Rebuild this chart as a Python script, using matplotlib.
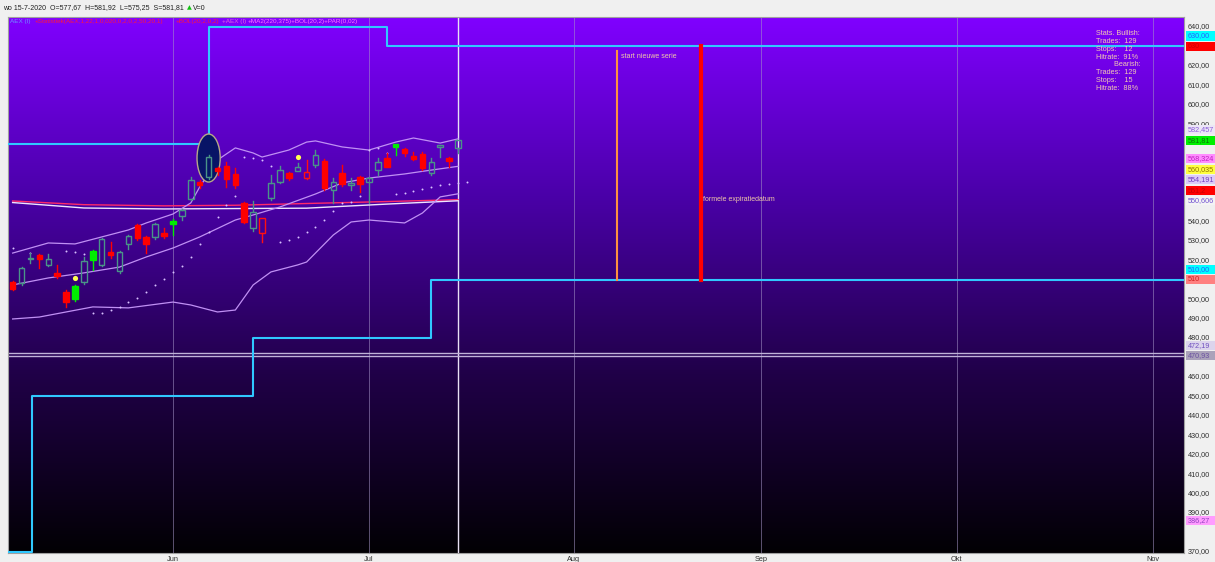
import numpy as np
import matplotlib
matplotlib.use('Agg')
import matplotlib.pyplot as plt
import matplotlib.transforms as mtrans
from matplotlib.patches import Rectangle, Ellipse
from matplotlib.colors import LinearSegmentedColormap

plt.rcParams['font.family'] = ['Liberation Sans', 'DejaVu Sans']

# AEX daily candles, bar index 0 .. 50 (last one is 15-7-2020)
opens = [508.8, 508.5, 520.7, 522.7, 517.6, 513.3, 503.8, 500.0, 508.7, 520.1,
         517.6, 524.4, 514.5, 528.4, 538.1, 532.1, 531.8, 533.9, 538.8, 542.8,
         551.5, 560.5, 563.0, 567.6, 568.7, 564.2, 549.3, 536.5, 533.9, 552.2,
         560.4, 564.7, 566.1, 562.2, 569.0, 571.2, 556.2, 564.7, 558.7, 563.0,
         560.1, 566.4, 572.5, 578.4, 577.1, 573.6, 574.5, 565.0, 578.4, 572.5,
         577.67]
highs = [509.5, 516.5, 523.5, 523.2, 523.3, 517.6, 504.5, 507.5, 521.8, 525.5,
         531.5, 529.6, 525.0, 533.0, 538.5, 532.5, 539.0, 536.6, 541.0, 546.5,
         563.0, 561.5, 574.0, 568.0, 570.7, 567.5, 550.0, 550.5, 542.0, 563.9,
         568.7, 565.5, 570.2, 571.6, 576.7, 572.0, 562.2, 569.0, 562.5, 563.5,
         562.8, 572.5, 575.0, 580.0, 577.6, 575.9, 575.5, 572.5, 579.5, 573.0,
         581.92]
lows = [504.5, 507.5, 518.5, 516.0, 517.0, 510.9, 496.1, 499.0, 508.0, 515.0,
        517.0, 521.0, 513.5, 525.6, 530.5, 523.6, 531.0, 531.3, 533.0, 540.7,
        551.0, 557.0, 562.0, 563.9, 557.9, 557.2, 539.0, 535.0, 529.6, 551.0,
        560.0, 561.5, 565.8, 561.8, 568.0, 556.0, 549.3, 558.0, 556.2, 555.3,
        549.3, 563.9, 567.8, 574.2, 573.5, 571.5, 566.5, 564.0, 573.3, 568.1,
        575.25]
closes = [505.3, 515.9, 521.2, 520.4, 520.8, 511.9, 498.7, 506.8, 519.6, 524.9,
          530.9, 522.7, 524.1, 532.5, 531.3, 528.2, 538.7, 532.5, 540.2, 545.9,
          561.3, 558.5, 573.0, 565.9, 561.8, 558.7, 539.8, 544.7, 541.6, 559.6,
          566.4, 562.5, 567.8, 565.6, 574.2, 557.0, 560.1, 559.1, 560.0, 559.1,
          562.5, 570.4, 568.1, 579.7, 575.3, 571.9, 567.3, 570.4, 579.3, 571.2,
          581.81]
green_days = [7, 9, 18, 43]
yellow_dots = [(7, 510.9), (32, 573.1)]

nan = np.nan
sar = [526.3, nan, 523.7, nan, nan, nan, 524.8, 524.3, 523.2, 492.9,
       492.9, 494.4, 496.0, 498.5, 500.6, 503.7, 507.3, 510.4, 514.0, 517.1,
       521.7, 528.4, 534.5, 542.3, 548.4, 553.1, 573.1, 572.6, 571.6, 568.5,
       529.4, 530.4, 532.0, 534.5, 537.1, 540.7, 545.3, 549.5, 550.0, 553.1,
       576.7, 577.8, 575.2, 554.1, 554.6, 555.6, 556.7, 557.7, 558.7, 559.4,
       559.7, 560.035]

# Bollinger (20,2)
bol_up_x = [0, 4, 7, 10, 13, 15, 18, 20, 21, 23, 25, 27, 28, 31, 33, 34, 37, 40, 43, 45, 48, 50]
bol_up = [523.7, 528.9, 528.4, 532.0, 535.6, 539.2, 543.8, 549.5, 557.7, 571.6, 577.8,
          575.2, 573.1, 576.7, 580.8, 581.4, 578.3, 576.7, 580.8, 582.9, 580.3, 582.457]
bol_mid_x = [0, 4, 8, 12, 15, 18, 21, 25, 27, 30, 34, 37, 40, 44, 47, 50]
bol_mid = [507.3, 510.9, 513.5, 516.5, 521.7, 526.3, 532.0, 540.7, 543.3, 547.4,
           554.1, 559.8, 562.3, 564.4, 566.4, 568.324]
bol_low_x = [0, 3, 6, 9, 13, 18, 20, 23, 25, 27, 29, 32, 33, 36, 38, 40, 44, 46, 48, 50]
bol_low = [489.8, 490.8, 493.4, 496.0, 495.5, 498.5, 497.0, 493.4, 494.4, 507.3,
           514.0, 517.6, 519.1, 533.0, 539.7, 540.7, 539.2, 544.3, 552.6, 554.191]

# MA2(220,375)
ma_x = [0, 8, 17, 25, 33, 42, 50]
ma220 = [550.5, 548.6, 548.0, 548.3, 549.2, 550.2, 551.2]
ma375 = [549.7, 546.9, 546.4, 546.6, 546.8, 548.9, 550.606]

# stop / target steps (bar index where level changes)
low_step_x = [2.2, 27, 47]
low_step_val = [370, 450, 480, 510]
high_step_x = [22, 42]
high_step_val = [580, 640, 630]

start_series = 67.85
expiry = 77.3
series_top = 627.6
expiry_top = 630.0
series_floor = 510.0
today = 50
hlines = [472.19, 470.93]

month_pos = [18, 40, 63, 84, 106, 128]
month_lbl = ['Jun', 'Jul', 'Aug', 'Sep', 'Okt', 'Nov']

right_labels = [
    (630.0, '630', '#ff0000', '#d00000'),
    (630.0, '630,00', '#00ffff', '#2a5cff'),
    (582.457, '582,457', '#ece6f6', '#8a5ad8'),
    (581.81, '581,81', '#00f000', '#107010'),
    (568.324, '568,324', '#ff8cff', '#c020c0'),
    (560.035, '560,035', '#ffff40', '#907000'),
    (554.191, '554,191', '#dccaf8', '#7040c0'),
    (551.2, '551,2', '#ff0000', '#c80000'),
    (550.606, '550,606', '#f4f4f4', '#7050d0'),
    (510.0, '510', '#ff8080', '#d02020'),
    (510.0, '510,00', '#00ffff', '#2a5cff'),
    (470.93, '470,93', '#aaa2ba', '#6a50a0'),
    (472.19, '472,19', '#dcd4ec', '#7050c0'),
    (386.27, '386,27', '#ff9cff', '#9040c0'),
]

legend_parts = [
    ('AEX (I)', '#7090ff', 10),
    ('+Statistiek(AEX,1,22,1,0,020,0,2,0,2,50,20,1)', '#ff1a3a', 35),
    ('+BOL(20,2,0,2)', '#ff1a3a', 176),
    ('+AEX (I)', '#e060e0', 216),
    ('+MA2(220,375)+BOL(20,2)+PAR(0,02)', '#ff70ff', 238),
]

stats_text = ('Stats. Bullish:\nTrades:  129\nStops:    12\nHitrate:  91%\n'
              '         Bearish:\nTrades:  129\nStops:    15\nHitrate:  88%')

# ------------------------------------------------------------------
W, H = 1215, 562
fig = plt.figure(figsize=(W / 100, H / 100), dpi=100)
fig.patch.set_facecolor('#f0f0f0')
ax = fig.add_axes([8 / W, 1 - 553 / H, (1184 - 8) / W, (553 - 17) / H])

x0, x1 = -0.52, 131.5
y0, y1 = 369.4, 645.15
ax.set_xlim(x0, x1)
ax.set_ylim(y0, y1)
upp = (y1 - y0) / 536.0   # price units per pixel

cmap = LinearSegmentedColormap.from_list('bg', ['#8000ff', '#4a00a8', '#200048', '#020004'],
                                         N=256)
grad = np.linspace(0, 1, 256).reshape(-1, 1)
ax.imshow(grad, extent=[x0, x1, y0, y1], aspect='auto', cmap=cmap, origin='upper', zorder=0)

for m in month_pos:
    ax.axvline(m, color='#a596c8', lw=0.7, alpha=0.55, zorder=1)
ax.axvline(today, color='#e8e0f4', lw=1.0, zorder=1)
for h in hlines:
    ax.axhline(h, color='#c0b2d8', lw=1.0, zorder=2)

# steps
xs = [x0] + low_step_x + [x1]
ax.step(xs, low_step_val + [low_step_val[-1]], where='post', color='#30c8ff', lw=1.5, zorder=3)
xs = [x0] + high_step_x + [x1]
ax.step(xs, high_step_val + [high_step_val[-1]], where='post', color='#30c8ff', lw=1.5, zorder=3)

# series / expiry lines
ax.plot([start_series, start_series], [series_floor, series_top], color='#ff9040', lw=1.5, zorder=3)
ax.plot([expiry, expiry], [series_floor, expiry_top], color='#ff0000', lw=3, zorder=3)
ax.text(start_series + 0.5, series_top - 3, 'start nieuwe serie', color='#f0c8a8',
        fontsize=5, va='center', zorder=4)
ax.text(expiry + 0.2, 551.5, 'formele expiratiedatum', color='#f0c8a8',
        fontsize=5, va='center', zorder=4)

# indicators
ax.plot(ma_x, ma220, color='#ff2a6a', lw=1.0, zorder=3)
ax.plot(ma_x, ma375, color='#f0e6ff', lw=1.0, zorder=3)
for bx, by in [(bol_up_x, bol_up), (bol_mid_x, bol_mid), (bol_low_x, bol_low)]:
    ax.plot(bx, by, color='#c090f4', lw=0.9, zorder=3)

ax.scatter(np.arange(len(sar)), sar, s=2, color='#d8c0ff', zorder=4, linewidths=0)

ax.add_patch(Ellipse((22, 572.6), 2.6, 24.7, facecolor='#081466', edgecolor='#b8a888',
                     lw=1.0, zorder=4))

# candles
bw = 0.62
teal = '#4a9488'
for i in range(len(opens)):
    o, h, l, c = opens[i], highs[i], lows[i], closes[i]
    lo, hi = min(o, c), max(o, c)
    if i in green_days:
        col, fill = '#00ee00', '#00ee00'
    elif c < o:
        col, fill = '#ff0000', '#ff0000'
    elif i > 0 and c < closes[i - 1]:
        col, fill = '#ff1010', 'none'
    else:
        col, fill = teal, 'none'
    ax.plot([i, i], [l, lo], color=col, lw=1, zorder=5)
    ax.plot([i, i], [hi, h], color=col, lw=1, zorder=5)
    ax.add_patch(Rectangle((i - bw / 2, lo), bw, max(hi - lo, 0.4), facecolor=fill,
                           edgecolor=col, lw=1, zorder=6))

for dx, dy in yellow_dots:
    ax.scatter([dx], [dy], s=14, color='#ffff50', zorder=7, linewidths=0)

ax.text(0.925, 0.975, stats_text, transform=ax.transAxes, fontsize=5.2, color='#f2c8b4',
        va='top', ha='left', linespacing=1.15, zorder=8)

# right axis: boxed labels (stacked upward), plain ticks where free
ftr = mtrans.blended_transform_factory(fig.transFigure, ax.transData)
gap = 10.5 * upp
order = sorted(range(len(right_labels)), key=lambda k: right_labels[k][0])
prev = -1e9
shown = []
for k in order:
    v, txt, fc, tc = right_labels[k]
    disp = max(v, prev + gap)
    prev = disp
    shown.append(disp)
    fig.patches.append(Rectangle((1186 / W, disp - 4.6 * upp), 29 / W, 9.2 * upp,
                                 transform=ftr, facecolor=fc, edgecolor='none', zorder=3))
    fig.text(1188 / W, disp, txt, transform=ftr, fontsize=5.2, color=tc, va='center',
             ha='left', zorder=4)

for v in range(370, 641, 10):
    # a label box hides the ticks just under it and right on it
    if any(-13 * upp < v - d < 5 * upp for d in shown):
        continue
    fig.text(1188 / W, v, '%d,00' % v, transform=ftr, fontsize=5.2, color='#303030',
             va='center', ha='left', zorder=2)

xtr = ax.get_xaxis_transform()
for p, lbl in zip(month_pos, month_lbl):
    ax.text(p, -0.006, lbl, transform=xtr, fontsize=5.3, color='#303030', ha='center',
            va='top', clip_on=False)

ax.set_xticks([])
ax.set_yticks([])
for s in ax.spines.values():
    s.set_color('#a0a0a0')
    s.set_linewidth(0.8)

# header and legend, laid out left to right from measured widths
fig.canvas.draw()
rend = fig.canvas.get_renderer()

hx = 3
t = fig.text(hx / W, 1 - 8 / H, 'wo 15-7-2020  O=577,67  H=581,92  L=575,25  S=581,81',
             fontsize=5.0, color='#202020', va='center')
hx = t.get_window_extent(rend).x1 + 3
t = fig.text(hx / W, 1 - 8 / H, '\u25b2', fontsize=4.5, color='#10c010', va='center',
             family=['DejaVu Sans'])
hx = t.get_window_extent(rend).x1 + 1
fig.text(hx / W, 1 - 8 / H, 'V=0', fontsize=5.0, color='#202020', va='center')

lx = 0
for txt, col, px in legend_parts:
    t = fig.text(max(px, lx) / W, 1 - 22 / H, txt, fontsize=4.6, color=col, va='center',
                 zorder=5)
    lx = t.get_window_extent(rend).x1 + 2

fig.savefig('out.png', dpi=100, facecolor=fig.get_facecolor())
